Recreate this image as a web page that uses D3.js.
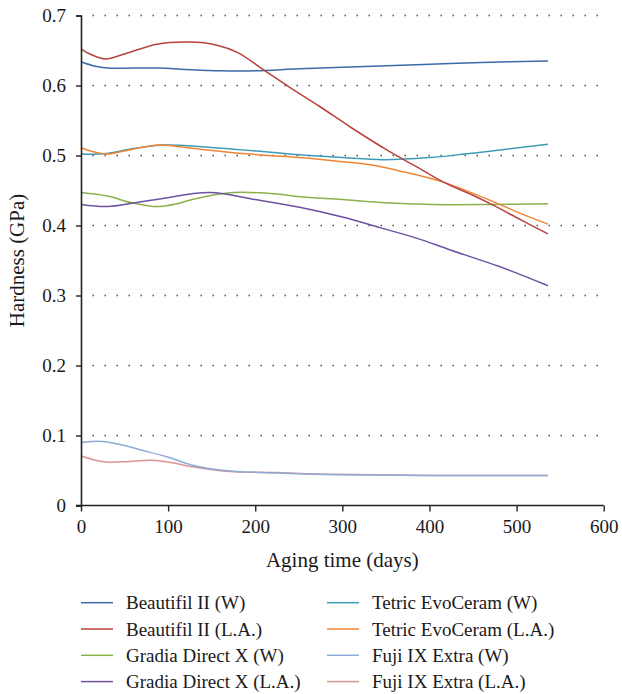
<!DOCTYPE html>
<html>
<head>
<meta charset="utf-8">
<script src="https://cdn.jsdelivr.net/npm/d3@7"></script>
<style>
  body { margin: 0; background: #fff; }
  svg { display: block; font-family: "Liberation Serif", "DejaVu Serif", serif; }
</style>
</head>
<body>
<svg width="622" height="694"></svg>
<script>
// hardness (GPa) vs aging time (days)
var beautifilW = [[0,0.634],[15,0.628],[30,0.625],[60,0.625],[90,0.625],[120,0.623],[160,0.621],[200,0.621],[251,0.624],[300,0.626],[393,0.630],[460,0.633],[536,0.635]];
var beautifilLA = [[0,0.652],[12,0.644],[28,0.638],[50,0.645],[87,0.659],[125,0.662],[155,0.658],[180,0.647],[210,0.622],[240,0.597],[274,0.570],[310,0.540],[351,0.508],[385,0.484],[416,0.462],[445,0.446],[473,0.429],[505,0.408],[536,0.388]];
var gradiaW = [[0,0.447],[30,0.442],[60,0.432],[87,0.427],[110,0.431],[130,0.438],[175,0.447],[225,0.445],[251,0.441],[300,0.437],[343,0.433],[405,0.430],[470,0.430],[536,0.431]];
var gradiaLA = [[0,0.430],[30,0.427],[60,0.432],[90,0.438],[148,0.447],[200,0.437],[251,0.426],[300,0.412],[343,0.397],[385,0.382],[424,0.365],[481,0.341],[536,0.314]];
var tetricW = [[0,0.502],[30,0.503],[60,0.510],[95,0.515],[135,0.513],[175,0.509],[215,0.505],[251,0.501],[300,0.497],[347,0.494],[400,0.497],[440,0.502],[481,0.508],[536,0.516]];
var tetricLA = [[0,0.511],[12,0.506],[30,0.502],[55,0.508],[90,0.515],[130,0.510],[175,0.504],[215,0.500],[251,0.497],[300,0.491],[330,0.487],[366,0.478],[416,0.462],[477,0.432],[505,0.417],[536,0.402]];
var fujiW = [[0,0.090],[24,0.0915],[45,0.087],[70,0.079],[100,0.069],[127,0.058],[165,0.050],[223,0.0464],[292,0.044],[400,0.043],[536,0.043]];
var fujiLA = [[0,0.071],[15,0.065],[28,0.062],[55,0.063],[81,0.0645],[105,0.061],[127,0.0555],[165,0.049],[223,0.047],[292,0.0445],[400,0.043],[536,0.043]];

var names = ["Beautifil II (W)", "Beautifil II (L.A.)", "Gradia Direct X (W)", "Gradia Direct X (L.A.)",
             "Tetric EvoCeram (W)", "Tetric EvoCeram (L.A.)", "Fuji IX Extra (W)", "Fuji IX Extra (L.A.)"];
var values = [beautifilW, beautifilLA, gradiaW, gradiaLA, tetricW, tetricLA, fujiW, fujiLA];
var colors = ["#3a6aab", "#b8423f", "#8cb04a", "#6c52a0", "#3d9bb5", "#ef8535", "#8eaad6", "#d99694"];

var xTicks = [0, 100, 200, 300, 400, 500, 600];
var yTicks = [0, 0.1, 0.2, 0.3, 0.4, 0.5, 0.6, 0.7];

var svg = d3.select("svg");
var plotLeft = 81, plotRight = 603.7, plotTop = 15.5, plotBottom = 505.5;

var x = d3.scaleLinear().domain([0, 600]).range([plotLeft, plotRight]);
var y = d3.scaleLinear().domain([0, 0.7]).range([plotBottom, plotTop]);

// dotted grid
svg.append("g")
    .selectAll("line")
    .data(yTicks.filter(d => d > 0))
    .enter().append("line")
    .attr("x1", plotLeft + 11.5)
    .attr("x2", plotRight - 3)
    .attr("y1", d => y(d))
    .attr("y2", d => y(d))
    .attr("stroke", "#444")
    .attr("stroke-width", 1.4)
    .attr("stroke-dasharray", "1.4,10.6");

var line = d3.line()
    .x(d => x(d[0]))
    .y(d => y(d[1]))
    .curve(d3.curveCatmullRom.alpha(0.5));

// draw Fuji first so the composites sit on top like the original
var order = [7, 6, 0, 2, 3, 4, 5, 1];
svg.append("g")
    .selectAll("path")
    .data(order)
    .enter().append("path")
    .attr("d", i => line(values[i]))
    .attr("fill", "none")
    .attr("stroke", i => colors[i])
    .attr("stroke-width", 1.5);

// axes
var xAxis = svg.append("g")
    .attr("transform", "translate(0," + plotBottom + ")")
    .call(d3.axisBottom(x).tickValues(xTicks).tickSize(6).tickPadding(8).tickFormat(d3.format("d")));
var yAxis = svg.append("g")
    .attr("transform", "translate(" + plotLeft + ",0)")
    .call(d3.axisLeft(y).tickValues(yTicks).tickSize(5).tickPadding(10).tickFormat(d => d === 0 ? "0" : d3.format(".1f")(d)));

[xAxis, yAxis].forEach(function(a) {
    a.select(".domain").attr("stroke", "#222").attr("stroke-width", 1.6);
    a.selectAll(".tick line").attr("stroke", "#222").attr("stroke-width", 1.4);
    a.selectAll("text")
        .attr("fill", "#1a1a1a")
        .style("font-size", "19px")
        .style("font-family", "'Liberation Serif', serif");
});
xAxis.select(".domain").attr("d", "M" + (plotLeft - 5) + ",0H" + plotRight);

svg.append("text")
    .attr("x", (plotLeft + plotRight) / 2)
    .attr("y", 567)
    .attr("text-anchor", "middle")
    .attr("fill", "#1a1a1a")
    .style("font-size", "21px")
    .text("Aging time (days)");

svg.append("text")
    .attr("transform", "translate(24," + ((plotTop + plotBottom) / 2) + ") rotate(-90)")
    .attr("text-anchor", "middle")
    .attr("fill", "#1a1a1a")
    .style("font-size", "21px")
    .text("Hardness (GPa)");

// legend, two columns of four
var legend = svg.append("g")
    .selectAll("g")
    .data(names)
    .enter().append("g")
    .attr("transform", (d, i) => "translate(" + (i < 4 ? 81 : 327) + "," + (602.7 + (i % 4) * 26.3) + ")");
legend.append("line")
    .attr("x1", 0).attr("x2", 32)
    .attr("stroke", (d, i) => colors[i])
    .attr("stroke-width", 1.5);
legend.append("text")
    .attr("x", 45)
    .attr("y", 6.5)
    .attr("fill", "#1a1a1a")
    .style("font-size", "19px")
    .text(d => d);
</script>
</body>
</html>
